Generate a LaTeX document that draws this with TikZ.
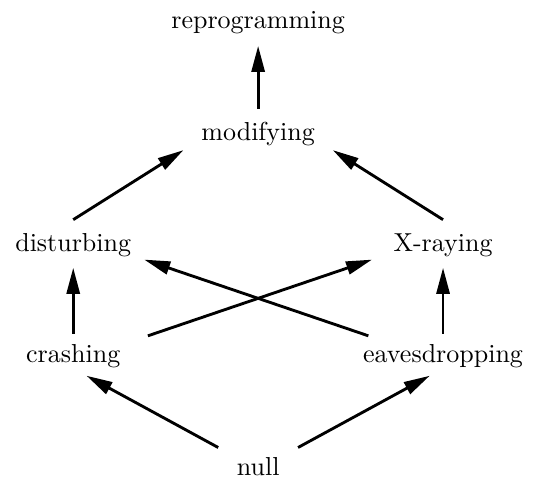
\documentclass[tikz,border=0pt]{standalone}
\usetikzlibrary{arrows.meta}

\begin{document}
\begin{tikzpicture}[
	attack/.style={inner sep=0pt},
	arr/.style={-{Triangle[length=10pt,width=5pt]}, line width=1.1pt},
	]
	\useasboundingbox (-3.49,-0.20) rectangle (3.77,6.31);
		%Nodes
    \node[attack] (null)   at (0,0)      {null};
    \node[attack] (crash)  at (-2.5,1.5) {crashing};
    \node[attack] (eaves)  at (2.5,1.5)  {eavesdropping};
    \node[attack] (disturb) at (-2.5,3)  {disturbing};
    \node[attack] (xray)   at (2.5,3)    {X-raying};
    \node[attack] (modify) at (0,4.5)    {modifying};
    \node[attack] (reprog) at (0,6)      {reprogramming};

		%Lines
		\draw[arr] ([shift={(-0.54,0.26)}]null.center) -- ([shift={(0.18,-0.27)}]crash.center);
		\draw[arr] ([shift={(0.54,0.26)}]null.center) -- ([shift={(-0.18,-0.27)}]eaves.center);
		\draw[arr] ([shift={(0,0.30)}]crash.center) -- ([shift={(0,-0.31)}]disturb.center);
		\draw[arr] ([shift={(0,0.30)}]eaves.center) -- ([shift={(0,-0.31)}]xray.center);
		\draw[arr] ([shift={(1.01,0.27)}]crash.center) -- ([shift={(-0.96,-0.20)}]xray.center);
		\draw[arr] ([shift={(-1.01,0.27)}]eaves.center) -- ([shift={(0.96,-0.20)}]disturb.center);
		\draw[arr] ([shift={(0,0.34)}]disturb.center) -- ([shift={(-1.01,-0.22)}]modify.center);
		\draw[arr] ([shift={(0,0.34)}]xray.center) -- ([shift={(1.01,-0.22)}]modify.center);
		\draw[arr] ([shift={(0,0.34)}]modify.center) -- ([shift={(0,-0.31)}]reprog.center);
	\end{tikzpicture}
\end{document}
